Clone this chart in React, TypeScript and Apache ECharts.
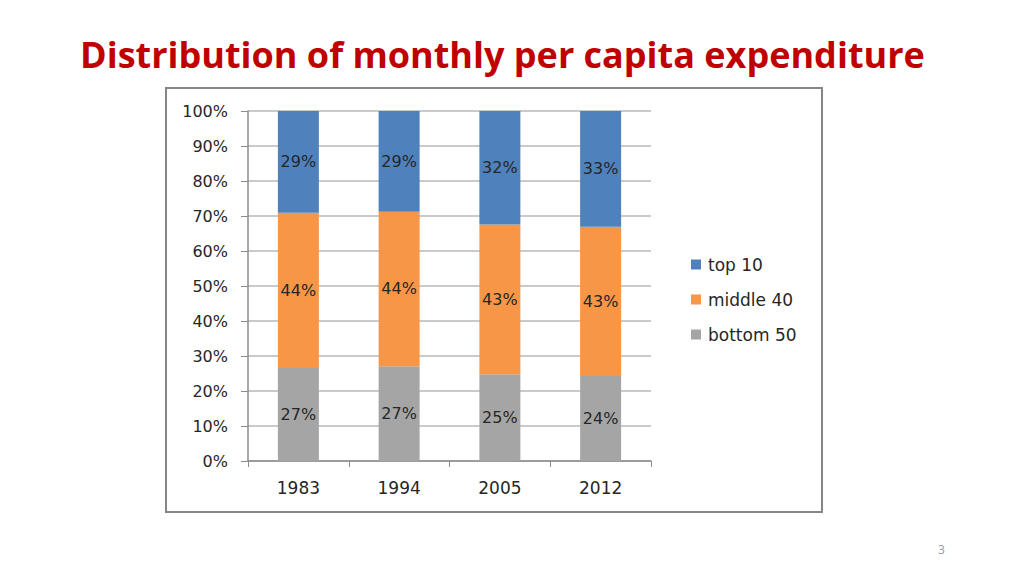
import React, { useEffect, useRef } from "react";
import * as echarts from "echarts";

const categories = ["1983", "1994", "2005", "2012"];
const bottom50 = [26.6, 27.1, 24.8, 24.3];
const middle40 = [44.3, 44.1, 42.8, 42.6];
const top10 = [29.1, 28.8, 32.4, 33.1];
const yTicks = [0, 10, 20, 30, 40, 50, 60, 70, 80, 90, 100];

const labelStyle = {
  show: true,
  position: "inside" as const,
  color: "#262626",
  fontSize: 16,
  fontFamily: "DejaVu Sans",
  formatter: (p: any) => Math.round(p.value) + "%",
};

export default function App() {
  const ref = useRef<HTMLDivElement>(null);
  useEffect(() => {
    if (!ref.current) return;
    const chart = echarts.init(ref.current, undefined, { renderer: "svg" });
    chart.setOption({
      animation: false,
      backgroundColor: "#ffffff",
      title: {
        text: "Distribution of monthly per capita expenditure",
        left: 75,
        top: 31,
        textStyle: {
          color: "#c00000",
          fontSize: 36,
          fontWeight: "bold",
          fontFamily: "Open Sans",
        },
      },
      graphic: [
        {
          type: "rect",
          shape: { x: 166, y: 88, width: 656, height: 424 },
          style: { fill: "none", stroke: "#868686", lineWidth: 2 },
          z: -1,
        },
        {
          type: "text",
          x: 938,
          y: 543,
          style: { text: "3", fill: "#999999", fontSize: 12, fontFamily: "Open Sans" },
        },
      ],
      legend: {
        orient: "vertical",
        left: 686,
        top: 251,
        itemWidth: 10,
        itemHeight: 10,
        itemGap: 18,
        icon: "rect",
        data: ["top 10", "middle 40", "bottom 50"],
        textStyle: { color: "#262626", fontSize: 17, fontFamily: "DejaVu Sans", padding: [0, 0, 0, 2] },
      },
      grid: { left: 248, right: 373, top: 111, bottom: 114 },
      xAxis: {
        type: "category",
        data: categories,
        axisLine: { lineStyle: { color: "#8c8c8c", width: 1.5 } },
        axisTick: { show: true, length: 6, lineStyle: { color: "#8c8c8c" } },
        axisLabel: { color: "#262626", fontSize: 17, fontFamily: "DejaVu Sans", margin: 18 },
      },
      yAxis: {
        type: "value",
        min: 0,
        max: 100,
        interval: 10,
        axisLine: { show: true, lineStyle: { color: "#8c8c8c", width: 1.5 } },
        axisTick: { show: true, length: 7, lineStyle: { color: "#8c8c8c" } },
        splitLine: { lineStyle: { color: "#b8b8b8", width: 1.5 } },
        axisLabel: {
          color: "#262626",
          fontSize: 16,
          fontFamily: "DejaVu Sans",
          margin: 20,
          formatter: (v: number) => (yTicks.includes(v) ? v + "%" : ""),
        },
      },
      series: [
        {
          name: "bottom 50",
          type: "bar",
          stack: "t",
          data: bottom50,
          barWidth: 41,
          itemStyle: { color: "#a5a5a5" },
          label: labelStyle,
        },
        {
          name: "middle 40",
          type: "bar",
          stack: "t",
          data: middle40,
          barWidth: 41,
          itemStyle: { color: "#f79646" },
          label: labelStyle,
        },
        {
          name: "top 10",
          type: "bar",
          stack: "t",
          data: top10,
          barWidth: 41,
          itemStyle: { color: "#4f81bd" },
          label: labelStyle,
        },
      ],
    });
    return () => chart.dispose();
  }, []);
  return (
    <div
      ref={ref}
      style={{ position: "fixed", left: 0, top: 0, width: 1024, height: 575 }}
    />
  );
}
